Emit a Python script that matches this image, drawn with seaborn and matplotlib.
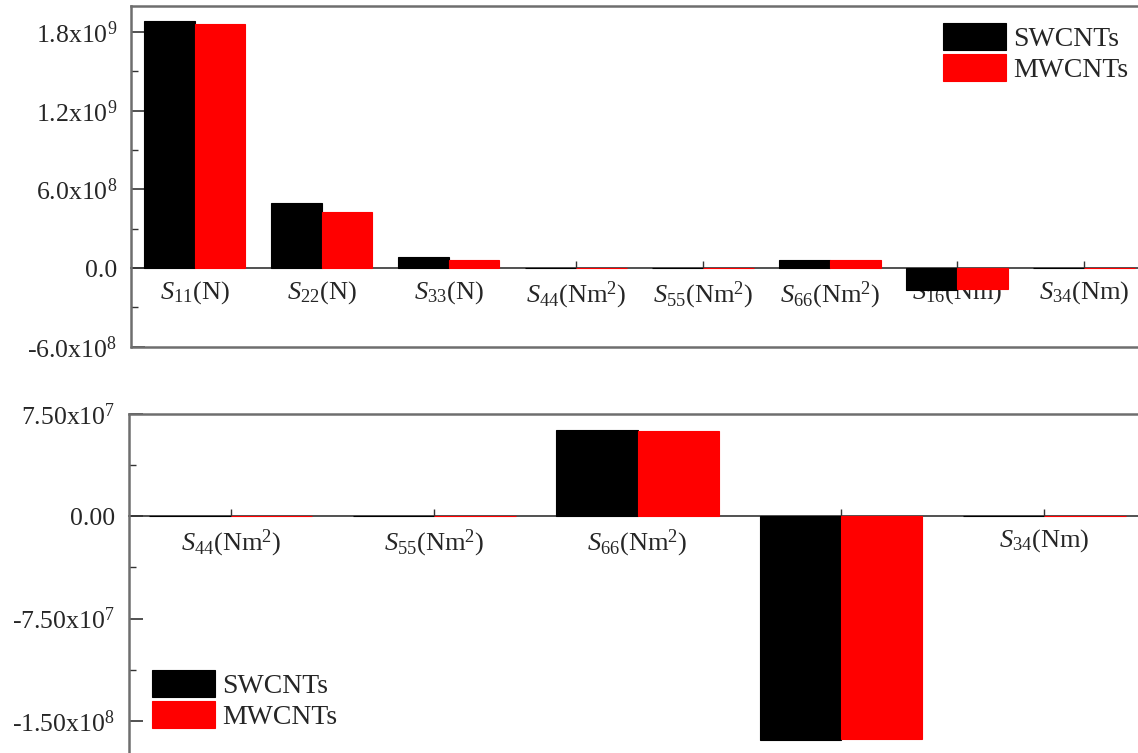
import numpy as np
import pandas as pd
import seaborn as sns
import matplotlib.pyplot as plt
from matplotlib.ticker import FixedLocator, MultipleLocator

# data
categories = [r'$S_{11}$(N)', r'$S_{22}$(N)', r'$S_{33}$(N)',
              r'$S_{44}$(Nm$^{2}$)', r'$S_{55}$(Nm$^{2}$)', r'$S_{66}$(Nm$^{2}$)',
              r'$S_{16}$(Nm)', r'$S_{34}$(Nm)']
series = ['SWCNTs', 'MWCNTs']
swcnt = [1.885e9, 5.0e8, 8.2e7, 4e5, 3e5, 6.33e7, -1.64e8, 5e5]
mwcnt = [1.862e9, 4.26e8, 5.9e7, 3e5, 2e5, 6.23e7, -1.63e8, 4e5]
colors = ['#000000', '#ff0000']

top_ticks = [-6e8, 0, 6e8, 1.2e9, 1.8e9]
top_ticklabels = [r'-6.0x10$^{8}$', '0.0', r'6.0x10$^{8}$', r'1.2x10$^{9}$', r'1.8x10$^{9}$']
bottom_ticks = [-1.5e8, -7.5e7, 0, 7.5e7]
bottom_ticklabels = [r'-1.50x10$^{8}$', r'-7.50x10$^{7}$', '0.00', r'7.50x10$^{7}$']

sns.set_style('white')
plt.rcParams['font.family'] = ['Liberation Serif', 'DejaVu Serif']
plt.rcParams['mathtext.fontset'] = 'custom'
plt.rcParams['mathtext.rm'] = 'Liberation Serif'
plt.rcParams['mathtext.it'] = 'Liberation Serif:italic'

df = pd.DataFrame({
    'param': categories * 2,
    'series': [series[0]] * len(categories) + [series[1]] * len(categories),
    'value': swcnt + mwcnt,
})

spine_col = '#6e6e6e'

fig = plt.figure(figsize=(11.38, 7.53), dpi=100)
ax1 = fig.add_axes([0.1151, 0.5396, 0.8932, 0.4525])
ax2 = fig.add_axes([0.1134, -0.0117, 0.8937, 0.4619])


def style_axis(ax, order, ticks, ticklabels, minor, ylim):
    sns.barplot(data=df[df['param'].isin(order)], x='param', y='value', hue='series',
                order=order, hue_order=series, palette=colors, saturation=1,
                linewidth=0.8, errorbar=None, ax=ax)
    # outline each bar in its own colour so the near-zero ones show as thin lines
    for p in ax.patches:
        p.set_edgecolor(p.get_facecolor())
    ax.set_xlim(-0.5, len(order) - 0.5)
    ax.set_ylim(*ylim)
    ax.set_xlabel('')
    ax.set_ylabel('')
    ax.yaxis.set_major_locator(FixedLocator(ticks))
    ax.set_yticklabels(ticklabels)
    ax.yaxis.set_minor_locator(MultipleLocator(minor))
    ax.tick_params(axis='y', which='major', direction='in', length=10, width=1.2,
                   pad=10, labelsize=18.5, left=True, color='#333333')
    ax.tick_params(axis='y', which='minor', direction='in', length=5, width=1.0,
                   left=True, color='#333333')
    ax.tick_params(axis='x', direction='in', length=5, width=1.0, pad=8,
                   labelsize=19, bottom=True, color='#333333')
    ax.spines['bottom'].set_position(('data', 0))
    ax.spines['bottom'].set_color('#333333')
    ax.spines['bottom'].set_linewidth(1.2)
    ax.spines['bottom'].set_zorder(0.5)
    for s in ['left', 'top', 'right']:
        ax.spines[s].set_color(spine_col)
        ax.spines[s].set_linewidth(1.8)


style_axis(ax1, categories, top_ticks, top_ticklabels, 3e8, (-6e8, 2.0e9))
style_axis(ax2, categories[3:], bottom_ticks, bottom_ticklabels, 3.75e7, (-1.8e8, 7.5e7))

# lower frame line of the upper panel (the x axis sits at zero)
ax1.plot([0, 1], [0, 0], transform=ax1.transAxes, color=spine_col, lw=1.8, clip_on=False)

leg_kw = dict(frameon=False, fontsize=20, handlelength=2.25, handleheight=1.1,
              handletextpad=0.27, labelspacing=0.08, borderpad=0, borderaxespad=0,
              loc='upper left')
h, l = ax1.get_legend_handles_labels()
ax1.legend(h, l, bbox_to_anchor=(0.799, 0.95), **leg_kw)
h, l = ax2.get_legend_handles_labels()
ax2.legend(h, l, bbox_to_anchor=(0.0226, 0.264), **leg_kw)

fig.savefig('out.png', dpi=100)
